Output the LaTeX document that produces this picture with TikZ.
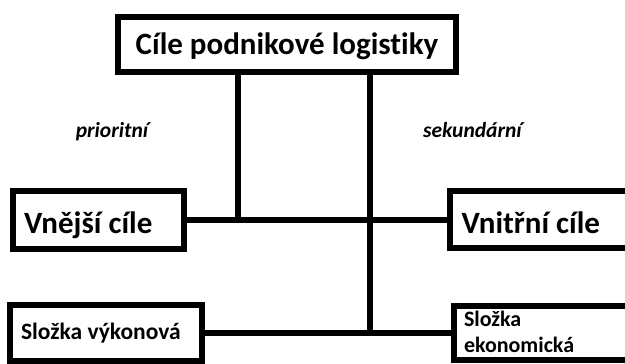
\documentclass[tikz,border=0pt]{standalone}
\usepackage{fontspec}
\setmainfont{Carlito}[Ligatures=NoCommon]
\begin{document}
\begin{tikzpicture}[x=1pt,y=1pt,
  box/.style={draw=black, line width=6pt, rectangle, inner sep=0pt, fill=white},
  leftbox/.style={box, align=flush left},
  link/.style={line width=6pt, line cap=butt},
  bigtext/.style={font=\bfseries\fontsize{31}{36}\selectfont},
  smalltext/.style={font=\bfseries\fontsize{22}{26}\selectfont},
  tag/.style={font=\bfseries\itshape\fontsize{21.5}{25}\selectfont, anchor=base}]
\useasboundingbox (0,0) rectangle (625,364);

% top goal box
\node[box, bigtext, minimum width=338pt, minimum height=55pt,
      text height=24pt, text depth=3pt] (goal) at (287,319.5) {Cíle podnikové logistiky};

% second level
\node[leftbox, bigtext, minimum height=58pt, text width=148.5pt, inner xsep=11pt,
      text height=29pt, text depth=2pt] (outer) at (98.25,144) {Vnější cíle};
\node[leftbox, bigtext, minimum height=57pt, text width=155pt, inner xsep=12pt,
      text height=29pt, text depth=2pt] (inner) at (539,144) {Vnitřní cíle};

% third level
\node[leftbox, font=\bfseries\fontsize{23.5}{28}\selectfont, minimum height=56.5pt,
      text width=170pt, inner xsep=11pt, text height=16pt, text depth=2pt] (perf) at (106,31) {Složka výkonová};
\node[leftbox, smalltext, minimum height=54pt, text width=164pt, inner xsep=10pt,
      text height=14pt, text depth=26pt] (econ) at (546,31) {Složka\\ekonomická};

% labels
\node[tag] (prio) at (112,226) {prioritní};
\node[tag] (sec) at (472.5,226) {sekundární};

% junctions
\coordinate (j1) at (238,144);
\coordinate (j2) at (370,31);

% connectors
\draw[link] (goal.south -| j1) -- (j1);
\draw[link] (goal.south -| j2) -- (j2);
\draw[link] (outer.east) -- (inner.west);
\draw[link] (perf.east) -- (econ.west);
\end{tikzpicture}
\end{document}
